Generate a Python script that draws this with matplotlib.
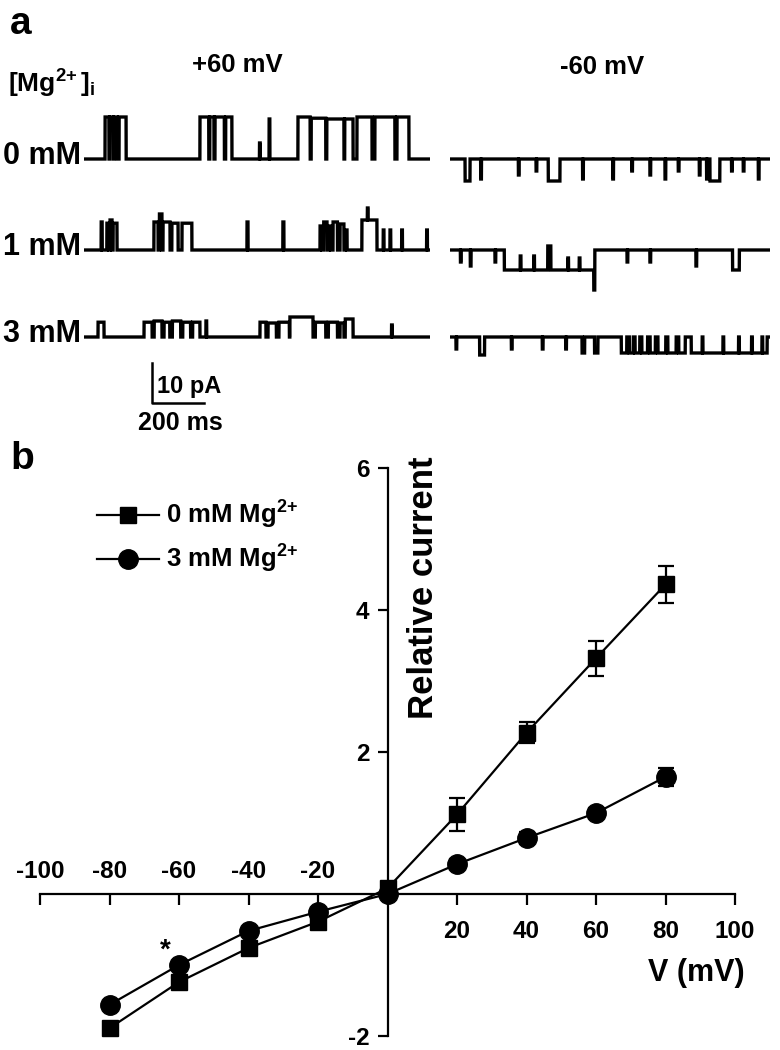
import numpy as np
import matplotlib
matplotlib.use("Agg")
import matplotlib.pyplot as plt

plt.rcParams['font.family'] = ['Liberation Sans', 'DejaVu Sans']
plt.rcParams['font.weight'] = 'bold'
plt.rcParams['axes.unicode_minus'] = False
plt.rcParams['mathtext.fontset'] = 'custom'
plt.rcParams['mathtext.rm'] = 'Liberation Sans:bold'
plt.rcParams['mathtext.it'] = 'Liberation Sans:bold'
plt.rcParams['mathtext.bf'] = 'Liberation Sans:bold'

# ---- panel a: single channel events (start ms, end ms, current pA) ----
plus60_0mM = [(81, 96, 10.5), (99, 112, 10.5), (115, 127, 10.5), (135, 162, 10.5),
              (446, 480, 10.5), (484, 500, 10.5), (504, 540, 10.5), (545, 569, 10.5),
              (675, 678, 4), (712, 715, 10),
              (823, 870, 10.5), (874, 930, 10.2), (934, 1000, 10), (1003, 1035, 10),
              (1050, 1108, 10.5), (1119, 1196, 10.5), (1204, 1250, 10.5)]
minus60_0mM = [(58, 77, -5.5), (378, 423, -5.5), (1000, 1038, -5.5),
               (118, 121, -5), (263, 266, -4), (331, 334, -3), (510, 513, -5),
               (626, 629, -5), (699, 702, -3), (769, 772, -4), (827, 830, -5),
               (878, 881, -3), (959, 962, -4), (987, 990, -5), (1083, 1086, -3),
               (1128, 1131, -3), (1186, 1189, -5)]
plus60_1mM = [(66, 70, 7), (88, 96, 6.7), (100, 108, 7.5), (112, 127, 6.7),
              (269, 285, 7), (290, 300, 9), (304, 331, 7), (338, 362, 6.7), (377, 415, 6.7),
              (627, 631, 7), (765, 769, 7),
              (908, 915, 6), (922, 935, 7), (942, 950, 6), (958, 975, 7),
              (985, 1000, 6.5), (1005, 1012, 5),
              (1069, 1127, 7.5), (1090, 1093, 10.5),
              (1151, 1154, 5), (1177, 1180, 5), (1222, 1225, 5), (1318, 1321, 5)]
minus60_1mM = [(209, 376, -5), (388, 553, -5), (553, 557, -10), (1087, 1113, -5),
               (270, 273, -1.5), (322, 325, -1.5), (376, 388, 1), (453, 456, -2), (497, 500, -2),
               (40, 43, -3), (78, 81, -4), (173, 176, -3), (681, 684, -3),
               (769, 772, -3), (946, 949, -4)]
plus60_3mM = [(54, 77, 3.7),
              (231, 262, 3.7), (270, 300, 4), (308, 330, 3.7), (340, 372, 4),
              (380, 410, 3.7), (418, 446, 3.7), (469, 472, 4),
              (677, 700, 3.7), (708, 740, 3.5), (750, 790, 3.7), (792, 881, 5),
              (890, 930, 3.7), (940, 975, 3.7), (985, 1000, 3.5), (1005, 1035, 4.5),
              (1183, 1186, 3)]
minus60_3mM = [(114, 133, -4.5), (508, 518, -4), (556, 569, -4),
               (659, 680, -4), (690, 705, -4), (712, 730, -4), (738, 760, -4),
               (770, 790, -4), (800, 830, -4), (838, 870, -4), (880, 905, -4),
               (928, 1220, -4),
               (970, 973, 0), (1050, 1053, 0), (1110, 1113, 0), (1160, 1163, 0), (1200, 1203, 0),
               (23, 26, -3), (236, 239, -3), (355, 358, -3), (445, 448, -3)]

rows = ['0 mM', '1 mM', '3 mM']
plus_traces = [plus60_0mM, plus60_1mM, plus60_3mM]
minus_traces = [minus60_0mM, minus60_1mM, minus60_3mM]
plus_len, minus_len = 1331, 1231

# ---- panel b: I-V data ----
volts = [-80, -60, -40, -20, 0, 20, 40, 60, 80]
mg0 = [-1.89, -1.24, -0.76, -0.39, 0.08, 1.12, 2.27, 3.32, 4.36]
mg0_err = [0.04, 0.05, 0.05, 0.04, 0.03, 0.23, 0.15, 0.25, 0.26]
mg3 = [-1.56, -1.00, -0.52, -0.25, 0.0, 0.42, 0.79, 1.14, 1.65]
mg3_err = [0.04, 0.04, 0.04, 0.04, 0.03, 0.07, 0.09, 0.07, 0.13]

W, H = 780, 1050
fig = plt.figure(figsize=(W / 100, H / 100), dpi=100)


def fx(px):
    return px / W


def fy(py):
    return 1 - py / H


def build(events, T):
    t = np.arange(0, T, 0.25)
    cur = np.zeros_like(t)
    for s, e, a in events:
        cur[(t >= s) & (t < e)] = a
    return t, cur


baselines = [159, 250, 337]
half = 44  # px, 4 px per pA
for i in range(3):
    for left, width, ev, T in [(84, 346, plus_traces[i], plus_len),
                               (450, 320, minus_traces[i], minus_len)]:
        ax = fig.add_axes([fx(left), fy(baselines[i] + half), width / W, 2 * half / H])
        t, cur = build(ev, T)
        ax.plot(t, cur, color='black', lw=2.4, solid_joinstyle='miter')
        ax.set_xlim(0, T)
        ax.set_ylim(-11, 11)
        ax.axis('off')
        if left == 84 and i == 2:
            # scale bar: 10 pA / 200 ms
            x0 = 261
            ax.plot([x0, x0, x0 + 200], [-6.5, -16.5, -16.5], color='black', lw=1.8,
                    clip_on=False)
    fig.text(fx(81), fy(baselines[i] - 3), rows[i], ha='right', va='center', fontsize=22)

fig.text(fx(157), fy(386), '10 pA', ha='left', va='center', fontsize=17)
fig.text(fx(180), fy(423), '200 ms', ha='center', va='center', fontsize=18)

fig.text(fx(10), fy(24), 'a', ha='left', va='center', fontsize=28)
fig.text(fx(237), fy(65), '+60 mV', ha='center', va='center', fontsize=18.5)
fig.text(fx(602), fy(67), '-60 mV', ha='center', va='center', fontsize=18.5)
fig.text(fx(8), fy(84), r'[Mg$^{2\!+}$]$_{\mathrm{i}}$', ha='left', va='center', fontsize=19)
fig.text(fx(10), fy(459), 'b', ha='left', va='center', fontsize=28)

# ---- panel b axes ----
ax = fig.add_axes([fx(40), fy(1036), 695 / W, 568 / H])
ax.set_xlim(-100, 100)
ax.set_ylim(-2, 6)
for s in ['top', 'right']:
    ax.spines[s].set_visible(False)
ax.spines['left'].set_position(('data', 0))
ax.spines['bottom'].set_position(('data', 0))
ax.spines['left'].set_linewidth(1.6)
ax.spines['bottom'].set_linewidth(1.6)
ax.patch.set_alpha(0)

ax.set_yticks([-2, 2, 4, 6])
ax.tick_params(axis='y', direction='out', length=7, width=1.6, labelsize=17.5, pad=6)
xt = [-100, -80, -60, -40, -20, 0, 20, 40, 60, 80, 100]
ax.set_xticks(xt)
ax.set_xticklabels([''] * len(xt))
ax.tick_params(axis='x', direction='out', length=8, width=1.6)
for v in xt:
    if v < 0:
        ax.annotate(str(v), (v, 0), xytext=(0, 16), textcoords='offset points',
                    ha='center', va='center', fontsize=17.5)
    elif v > 0:
        ax.annotate(str(v), (v, 0), xytext=(0, -27), textcoords='offset points',
                    ha='center', va='center', fontsize=17.5)

ax.errorbar(volts, mg0, yerr=mg0_err, fmt='none', ecolor='black', capsize=6,
            capthick=1.6, elinewidth=1.6, clip_on=False)
ax.errorbar(volts, mg3, yerr=mg3_err, fmt='none', ecolor='black', capsize=6,
            capthick=1.6, elinewidth=1.6, clip_on=False)
ax.plot(volts, mg0, color='black', lw=1.6, marker='s', ms=12, clip_on=False,
        label=r'0 mM Mg$^{2\!+}$')
ax.plot(volts, mg3, color='black', lw=1.6, marker='o', ms=14, clip_on=False,
        label=r'3 mM Mg$^{2\!+}$')

ax.text(-64, -0.8, '*', ha='center', va='center', fontsize=20)
ax.text(10.5, 4.32, 'Relative current', rotation=90, ha='center', va='center', fontsize=25)
ax.text(89, -1.11, 'V (mV)', ha='center', va='center', fontsize=22)

leg = ax.legend(loc='center left', bbox_to_anchor=(fx(97), fy(537)),
                bbox_transform=fig.transFigure, frameon=False, fontsize=18.5,
                handlelength=2.4, handletextpad=0.3, labelspacing=0.45, borderaxespad=0,
                borderpad=0)

fig.savefig('out.png', dpi=100)
